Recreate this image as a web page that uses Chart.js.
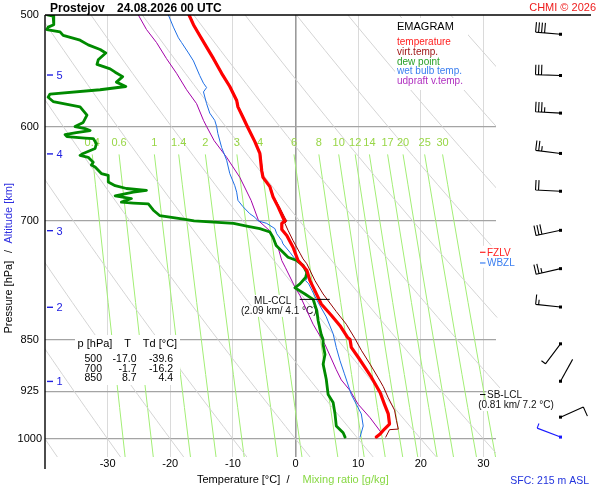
<!DOCTYPE html>
<html>
<head>
<meta charset="utf-8">
<title>Emagram Prostejov</title>
<script src="https://cdn.jsdelivr.net/npm/chart.js@4.4.1/dist/chart.umd.min.js"></script>
<style>
html,body{margin:0;padding:0;background:#fff;}
canvas{display:block;}
</style>
</head>
<body>
<canvas id="emagram" width="600" height="500"></canvas>
<script>
// ---------------- data ----------------
const stationName = 'Prostejov';
const runTime = '24.08.2026 00 UTC';
const copyrightText = 'CHMI \u00A9 2026';
const sfcText = 'SFC: 215 m ASL';

const tempP = [500,508,517,527,537,550,562,575,581,591,600,615,627,645,652,662,673,684,698,700,703,710,717,731,743,747,759,772,785,802,817,831,847,850,861,875,890,904,927,945,960,976,984,992,997];
const tempT = [-17.0,-16.3,-15.3,-14.2,-13.1,-11.8,-10.5,-9.4,-9.2,-8.4,-7.7,-6.5,-5.7,-5.4,-5.2,-4.1,-3.6,-2.8,-1.9,-1.7,-2.2,-2.2,-1.4,-0.4,0.2,0.4,1.8,2.3,3.1,4.1,5.7,7.1,8.3,8.7,8.9,10.0,11.1,12.1,13.5,14.2,14.8,15.0,14.2,13.5,12.9];

const virtP = [500,508,517,527,537,550,562,575,581,591,600,615,627,645,652,662,673,684,698,700,703,711,723,738,745,751,772,789,812,829,849,865,885,905,918,935,954,970,984,985,997];
const virtT = [-16.9,-16.2,-15.2,-14.1,-13.0,-11.7,-10.4,-9.3,-9.1,-8.3,-7.6,-6.4,-5.6,-5.3,-5.1,-4.0,-3.5,-2.6,-1.6,-1.4,-1.7,-1.2,-0.4,0.7,1.2,1.8,3.1,4.4,6.5,8.1,9.5,10.5,11.9,13.2,14.0,14.8,15.8,16.1,16.4,15.0,14.4];

const dewP = [500,501,508,510,512,514,517,521,525,529,532,538,542,546,549,553,558,562,565,569,572,576,581,589,596,600,602,604,606,608,610,611.5,612,617,622,627,629,631,636,639,641,648,650,657,661,664,666,668,672,675,679,680,681,688,694,698,700,703,706,709,713,719,729,737,743,747,753,762,768,776,781,785,789,796,811,824,843,850,857,871,885,898,907,930,942,960,979,990,997];
const dewT = [-39.6,-38.7,-38.6,-39.5,-39.7,-37.6,-37.1,-34.4,-33.1,-31.2,-30.3,-31.5,-31.7,-29.6,-28.8,-27.6,-28.6,-27.1,-31.2,-39.2,-39.5,-38.7,-34.4,-33.3,-33.9,-35.2,-33.6,-32.8,-35.0,-36.8,-36.5,-33.6,-32.3,-31.8,-32.0,-33.9,-34.4,-33.1,-32.3,-32.6,-32.0,-31.0,-29.9,-29.9,-28.8,-27.0,-23.8,-25.9,-28.8,-26.2,-27.8,-25.9,-23.5,-22.7,-21.7,-17.9,-16.2,-9.9,-7.8,-5.7,-4.1,-3.6,-3.1,-2.0,-1.2,0.2,1.2,1.8,1.6,0.7,-0.1,0.7,1.5,2.8,3.4,3.6,4.1,4.4,4.4,4.7,4.4,4.7,4.9,5.2,6.0,6.3,6.5,7.6,7.9];

const wetP = [500,510,519,523,532,539,552,559,563,567,578,587,594,600,607,621,634,648,661,668,677,684,692,696,700,703,709,715,723,727,737,744,756,768,772,776,797,819,842,861,880,899,930,945,960,979,997];
const wetT = [-20.3,-19.5,-18.7,-18.2,-17.1,-16.3,-15.3,-14.7,-14.2,-14.7,-14.2,-13.7,-12.9,-12.6,-12.4,-11.8,-11.0,-10.5,-9.7,-9.4,-9.2,-8.4,-7.3,-6.5,-6.0,-4.6,-3.3,-3.0,-2.2,-2.0,-0.9,-0.2,1.4,1.9,1.6,2.1,3.4,4.9,6.0,6.5,7.1,7.8,8.9,9.7,10.5,10.8,10.3];

const updP = [500,512,523,537,550,565,578,594,600,614,631,652,677,700,711,731,747,756,780,791,829,857,893,908,924,945,966,990];
const updT = [-25.1,-23.8,-22.2,-20.6,-19.0,-17.4,-15.8,-14.7,-14.2,-13.0,-11.0,-8.9,-7.1,-5.9,-4.2,-2.8,-2.2,-1.6,-0.1,0.7,2.8,4.7,6.5,7.3,8.7,10.0,11.9,13.7];

const xTicks = [-30,-20,-10,0,10,20,30];
const pTicks = [500,600,700,850,925,1000];
const altKm = [1,2,3,4,5];
const altP = [911,807,712,628,552];
const mixRatio = [0.4,0.6,1,1.4,2,3,4,6,8,10,12,14,17,20,25,30];
const mixLabels = ['0.4','0.6','1','1.4','2','3','4','6','8','10','12','14','17','20','25','30'];
const mixLevels = [628,660,700,750,800,850,900,950,1000,1030];
const thetaC = [-40,-30,-20,-10,0,10,20,30,40,50,60,70,80,90];
const thetaExtended = [40,50];

const windP   = [516,552,587,627,667,711,757,806,856,910,965,997];
const windDir = [275,272,273,277,273,258,257,276,217,29,66,291];
const windSpd = [40,30,35,25,20,30,25,15,5,2,10,5];

const tableP  = [500,700,850];
const tableT  = [-17.0,-1.7,8.7];
const tableTd = [-39.6,-16.2,4.4];

const cclP = 796, cclKm = 2.09, cclT = 4.1;
const lclP = 930, lclKm = 0.81, lclT = 7.2;
const fzlvP = 737, wbzlP = 750;

// ---------------- helpers ----------------
const FONT = '"Liberation Sans", Arial, Helvetica, sans-serif';
function satMixT(w, p){ const e = w*p/(622+w); const l = Math.log(e/6.112); return 243.5*l/(17.67-l); }
function dryAdT(th, p){ return (th+273.15)*Math.pow(p/1000, 0.2857) - 273.15; }

const datasets = [];
thetaC.forEach(th => {
  const ext = thetaExtended.includes(th);
  const d = [];
  for (let p = 500; p <= 1030; p += 10) {
    const T = dryAdT(th, p);
    if (!ext || T <= 39.3) d.push({x:T, y:p});
  }
  const ds = {label:'theta'+th, data:d, borderColor:'#d4d4d4', borderWidth:1, order:100, showLine:true, pointRadius:0};
  if (ext) ds.clip = {left:0, top:0, right:46, bottom:0};
  datasets.push(ds);
});
mixRatio.forEach(w => {
  datasets.push({label:'w'+w, data:mixLevels.map(p => ({x:satMixT(w,p), y:p})), borderColor:'#a3ee76', borderWidth:1, order:100, showLine:true, pointRadius:0});
});
function prof(label, P, T, color, width, order){
  return {label, data:P.map((p,i)=>({x:T[i], y:p})), borderColor:color, borderWidth:width, order,
          showLine:true, pointRadius:0, borderJoinStyle:'round', borderCapStyle:'round'};
}
datasets.push(prof('upd',  updP,  updT,  '#a300a8', 1, 5));
datasets.push(prof('wet',  wetP,  wetT,  '#1f6fe5', 1, 4));
datasets.push(prof('virt', virtP, virtT, '#950000', 1, 3));
datasets.push(prof('dew',  dewP,  dewT,  '#008a00', 2.8, 2));
datasets.push(prof('temp', tempP, tempT, '#ff0000', 3.2, 1));

function whiteBox(ctx, x, y, w, h){ ctx.fillStyle = '#ffffff'; ctx.fillRect(x, y, w, h); }

function drawBarb(ctx, x, y, dir, spd, color){
  const a = dir*Math.PI/180, ux = Math.sin(a), uy = -Math.cos(a);
  const L = 25, tx = x+ux*L, ty = y+uy*L, fx = -uy, fy = ux, step = 3;
  ctx.strokeStyle = color; ctx.fillStyle = color; ctx.lineWidth = 1.1;
  ctx.beginPath(); ctx.moveTo(x, y); ctx.lineTo(tx, ty);
  let s = Math.round(spd/5)*5, k = 0;
  while (s >= 10) { const bx = tx-ux*step*k, by = ty-uy*step*k; ctx.moveTo(bx,by); ctx.lineTo(bx+fx*10, by+fy*10); s -= 10; k++; }
  if (s >= 5) { const bx = tx-ux*step*k, by = ty-uy*step*k; ctx.moveTo(bx,by); ctx.lineTo(bx+fx*5, by+fy*5); }
  ctx.stroke();
  ctx.fillRect(x-1.5, y-1.5, 3, 3);
}

const decor = {
  id:'decor',
  beforeDatasetDraw(chart, args){
    if (chart.data.datasets[args.index].label !== 'upd') return;
    const {ctx, chartArea:A, scales:{x:xs, y:ys}} = chart;
    ctx.save();
    // mixing ratio labels
    ctx.font = '11px '+FONT; ctx.fillStyle = '#98d646'; ctx.textAlign = 'center'; ctx.textBaseline = 'middle';
    mixRatio.forEach((w,i) => {
      const px = xs.getPixelForValue(satMixT(w, mixLevels[0]));
      const py = ys.getPixelForValue(mixLevels[0]) - 11;
      ctx.fillText(mixLabels[i], px, py);
    });
    // legend box
    const lx = A.right - 101;
    whiteBox(ctx, lx, A.top+3, 73, 72);
    ctx.textAlign = 'left';
    ctx.font = '11px '+FONT; ctx.fillStyle = '#000'; ctx.fillText('EMAGRAM', lx+2, A.top+11.5);
    const legItems = [['temperature','#ff2020'],['virt.temp.','#a01818'],['dew point','#28a028'],['wet bulb temp.','#3a7ef0'],['udpraft v.temp.','#b030c0']];
    ctx.font = '10px '+FONT;
    legItems.forEach((it,i) => { ctx.fillStyle = it[1]; ctx.fillText(it[0], lx+2, A.top+27.3+i*9.8); });
    // table
    const tx0 = A.left + 30;
    whiteBox(ctx, tx0, 335, 105, 50);
    ctx.fillStyle = '#000'; ctx.font = '11px '+FONT; ctx.textAlign = 'center';
    ctx.fillText('p [hPa]', tx0+20, 344); ctx.fillText('T', tx0+52.5, 344); ctx.fillText('Td [\u00B0C]', tx0+85, 344);
    ctx.font = '10.5px '+FONT; ctx.textAlign = 'right';
    tableP.forEach((p,i) => {
      const yy = 359 + i*9.8;
      ctx.fillText(String(p), tx0+27, yy);
      ctx.fillText(tableT[i].toFixed(1), tx0+61.5, yy);
      ctx.fillText(tableTd[i].toFixed(1), tx0+98, yy);
    });
    // ML-CCL label
    const cx = xs.getPixelForValue(cclT), cy = ys.getPixelForValue(cclP);
    ctx.font = '10px '+FONT;
    const t1 = 'ML-CCL', t2 = '(' + cclKm.toFixed(2) + ' km/ ' + cclT.toFixed(1) + ' \u00B0C)';
    const w1 = ctx.measureText(t1).width, w2 = ctx.measureText(t2).width;
    whiteBox(ctx, cx-48.5-w1/2-1, cy-4.5, w1+2, 11);
    whiteBox(ctx, cx-42.5-w2/2-1, cy+6.5, w2+2, 11);
    ctx.fillStyle = '#111'; ctx.textAlign = 'center';
    ctx.fillText(t1, cx-48.5, cy+1.5);
    ctx.fillText(t2, cx-42.5, cy+12);
    // SB-LCL label
    const ly = ys.getPixelForValue(lclP);
    const t3 = 'SB-LCL', t4 = '(' + lclKm.toFixed(2) + ' km/ ' + lclT.toFixed(1) + ' \u00B0C)';
    const w3 = ctx.measureText(t3).width, w4 = ctx.measureText(t4).width;
    whiteBox(ctx, A.right-9.5, ly-4.5, w3+2, 10.5);
    whiteBox(ctx, A.right+20-w4/2-1, ly+5.5, w4+2, 11);
    ctx.fillStyle = '#111'; ctx.textAlign = 'left'; ctx.fillText(t3, A.right-9, ly+1);
    ctx.textAlign = 'center'; ctx.fillText(t4, A.right+20, ly+11);
    // FZLV / WBZL
    const fy = ys.getPixelForValue(fzlvP), wy = ys.getPixelForValue(wbzlP);
    whiteBox(ctx, A.right-18, fy-6.5, 45, 22);
    ctx.font = '10px '+FONT; ctx.textAlign = 'left'; ctx.lineWidth = 1.2;
    ctx.strokeStyle = '#ff2020'; ctx.fillStyle = '#ff2020';
    ctx.beginPath(); ctx.moveTo(A.right-16, fy); ctx.lineTo(A.right-10.5, fy); ctx.stroke();
    ctx.fillText('FZLV', A.right-9, fy+0.5);
    ctx.strokeStyle = '#3a7ef0'; ctx.fillStyle = '#3a7ef0';
    ctx.beginPath(); ctx.moveTo(A.right-16, wy); ctx.lineTo(A.right-10.5, wy); ctx.stroke();
    ctx.fillText('WBZL', A.right-9, wy+0.5);
    ctx.restore();
  },
  afterDatasetsDraw(chart){
    const {ctx, chartArea:A, scales:{x:xs, y:ys}} = chart;
    ctx.save();
    // borders
    ctx.strokeStyle = '#000'; ctx.lineWidth = 1.4;
    ctx.beginPath(); ctx.moveTo(A.left, A.top); ctx.lineTo(A.right+95, A.top); ctx.stroke();
    ctx.beginPath(); ctx.moveTo(A.left, A.top); ctx.lineTo(A.left, A.bottom+12); ctx.stroke();
    // CCL / LCL bars
    const cx = xs.getPixelForValue(cclT), cy = ys.getPixelForValue(cclP);
    ctx.lineWidth = 1;
    ctx.beginPath(); ctx.moveTo(cx-21.5, cy); ctx.lineTo(cx+8.5, cy); ctx.stroke();
    const ly = ys.getPixelForValue(lclP);
    ctx.beginPath(); ctx.moveTo(A.right-16, ly); ctx.lineTo(A.right-10.5, ly); ctx.stroke();
    // altitude labels
    ctx.strokeStyle = '#2020e0'; ctx.fillStyle = '#2020e0'; ctx.lineWidth = 1.4;
    ctx.font = '11px '+FONT; ctx.textAlign = 'left'; ctx.textBaseline = 'middle';
    altKm.forEach((km,i) => {
      const yy = ys.getPixelForValue(altP[i]);
      ctx.beginPath(); ctx.moveTo(A.left+2, yy-0.5); ctx.lineTo(A.left+8, yy-0.5); ctx.stroke();
      ctx.fillText(String(km), A.left+11.5, yy+0.5);
    });
    // wind barbs
    const bx = A.right + 64.5;
    windP.forEach((p,i) => {
      const yy = ys.getPixelForValue(p);
      drawBarb(ctx, bx, yy, windDir[i], windSpd[i], i === windP.length-1 ? '#1a1aff' : '#000');
    });
    // title
    ctx.fillStyle = '#000'; ctx.font = 'bold 12px '+FONT; ctx.textBaseline = 'alphabetic'; ctx.textAlign = 'left';
    ctx.fillText(stationName, A.left+5, 12);
    ctx.fillText(runTime, A.left+72, 12);
    ctx.fillStyle = '#ee1c1c'; ctx.font = '11px '+FONT; ctx.textAlign = 'right';
    ctx.fillText(copyrightText, 596, 11);
    // x axis title
    ctx.textBaseline = 'middle'; ctx.textAlign = 'left'; ctx.font = '11px '+FONT;
    ctx.fillStyle = '#000'; ctx.fillText('Temperature [\u00B0C]', A.left+152, 479.5);
    ctx.fillText('/', A.left+241.5, 479.5);
    ctx.fillStyle = '#88d844'; ctx.fillText('Mixing ratio [g/kg]', A.left+257.5, 479.5);
    // y axis title (rotated)
    ctx.save(); ctx.translate(8.5, 0); ctx.rotate(-Math.PI/2);
    ctx.textAlign = 'left'; ctx.fillStyle = '#000';
    ctx.fillText('Pressure [hPa]', -333.5, 0);
    ctx.textAlign = 'center'; ctx.fillText('/', -251.5, 0);
    ctx.textAlign = 'left'; ctx.fillStyle = '#2f2fe0'; ctx.fillText('Altitude [km]', -243.5, 0);
    ctx.restore();
    // surface text
    ctx.fillStyle = '#2233dd'; ctx.font = '10.5px '+FONT; ctx.textAlign = 'right'; ctx.textBaseline = 'middle';
    ctx.fillText(sfcText, 589, 481);
    ctx.restore();
  }
};

new Chart(document.getElementById('emagram').getContext('2d'), {
  type: 'scatter',
  data: { datasets },
  options: {
    responsive: false, animation: false, devicePixelRatio: 1, events: [],
    layout: { padding: { left: 0, top: 15, right: 104, bottom: 0 } },
    elements: { point: { radius: 0, hoverRadius: 0 }, line: { tension: 0, fill: false } },
    plugins: { legend: { display: false }, tooltip: { enabled: false }, title: { display: false } },
    scales: {
      x: {
        type: 'linear', position: 'bottom', min: -40, max: 32,
        afterBuildTicks: s => { s.ticks = xTicks.map(v => ({ value: v })); },
        afterFit: s => { s.height = 43; },
        grid: {
          drawTicks: false,
          color: c => (c.tick && c.tick.value === 0) ? '#9a9a9a' : '#dadada',
          lineWidth: c => (c.tick && c.tick.value === 0) ? 1.6 : 1
        },
        border: { display: false },
        ticks: { color: '#000', font: { family: FONT, size: 11 }, padding: 0, autoSkip: false, maxRotation: 0, callback: v => String(v) }
      },
      y: {
        type: 'logarithmic', position: 'left', reverse: true, min: 500, max: 1030,
        afterBuildTicks: s => { s.ticks = pTicks.map(v => ({ value: v })); },
        afterFit: s => { s.width = 45; },
        grid: {
          drawTicks: false,
          color: c => (c.tick && c.tick.value === 500) ? 'rgba(0,0,0,0)' : '#a4a4a4',
          lineWidth: 1.3
        },
        border: { display: false },
        ticks: { color: '#000', font: { family: FONT, size: 11 }, padding: 3, crossAlign: 'center', autoSkip: false, callback: v => String(v) }
      }
    }
  },
  plugins: [decor]
});
</script>
</body>
</html>
